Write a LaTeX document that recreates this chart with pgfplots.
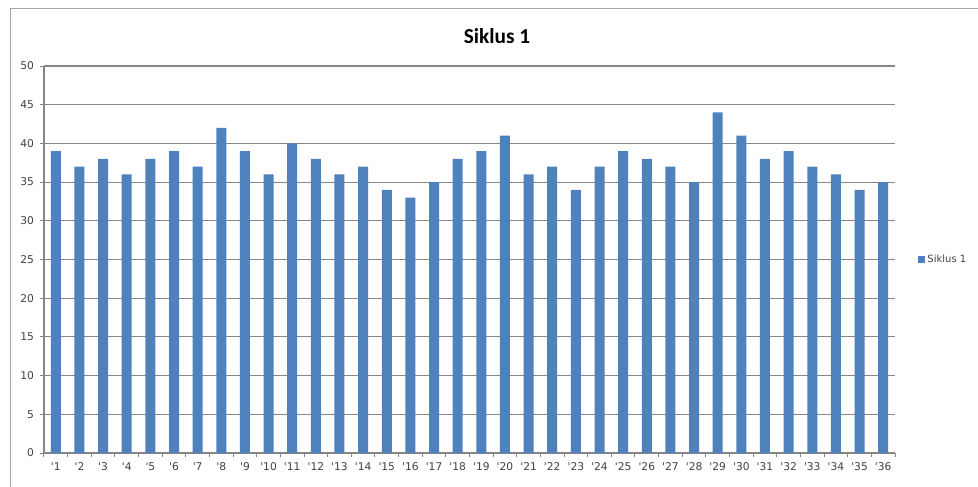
\documentclass[border=0pt]{standalone}
\usepackage{fontspec}
\setmainfont{DejaVu Sans}
\newfontfamily\titlefont{Carlito}
\usepackage{pgfplots}
\pgfplotsset{compat=1.18}
\definecolor{barblue}{HTML}{4F81BD}
\definecolor{gridgray}{HTML}{868686}
\definecolor{framegray}{HTML}{A6A6A6}
\definecolor{labelgray}{HTML}{404040}
\pgfplotstableread{
x y
1 39
2 37
3 38
4 36
5 38
6 39
7 37
8 42
9 39
10 36
11 40
12 38
13 36
14 37
15 34
16 33
17 35
18 38
19 39
20 41
21 36
22 37
23 34
24 37
25 39
26 38
27 37
28 35
29 44
30 41
31 38
32 39
33 37
34 36
35 34
36 35
}\datatable
\begin{document}
\begin{tikzpicture}
\useasboundingbox (0,0) rectangle (733.5pt,364.5pt);
\draw[framegray, line width=0.75pt] (7.5pt,-2pt) -- (7.5pt,357.75pt) -- (740pt,357.75pt);
\node[font=\titlefont\bfseries\fontsize{16pt}{18pt}\selectfont, text=black] at (372.75pt,337.5pt) {Siklus 1};
\begin{axis}[
  at={(33pt,24.75pt)}, anchor=south west,
  scale only axis, width=638.25pt, height=290.25pt,
  xmin=0.5, xmax=36.5, ymin=0, ymax=50,
  ytick={0,5,...,50},
  xtick={1,...,36},
  xticklabel={\textquotesingle\pgfmathparse{int(\tick)}\pgfmathresult},
  minor xtick={0.5,1.5,...,36.5},
  major x tick style={draw=none},
  tick align=outside,
  major tick length=3pt, minor tick length=3pt,
  tick style={draw=gridgray, line width=0.75pt},
  axis lines*=left,
  axis line style={draw=gridgray, line width=0.8pt, -},
  ymajorgrids=true,
  grid style={draw=gridgray, line width=0.8pt},
  /pgf/number format/assume math mode=true,
  tick label style={font=\fontsize{8pt}{9pt}\selectfont, text=labelgray},
  yticklabel style={xshift=-1pt},
  xticklabel style={yshift=-1pt},
  legend style={at={(1.025,0.5)}, anchor=west, draw=none, fill=none,
    font=\fontsize{7.5pt}{9pt}\selectfont, text=labelgray,
    legend cell align=left, inner sep=1pt},
  legend image code/.code={\fill[barblue] (0pt,-2.6pt) rectangle (5.2pt,2.6pt);},
]
\addplot[ybar, bar width=7.5pt, fill=barblue, draw=none] table[x=x,y=y] {\datatable};
\addlegendentry{Siklus 1}
\end{axis}
\end{tikzpicture}
\end{document}
